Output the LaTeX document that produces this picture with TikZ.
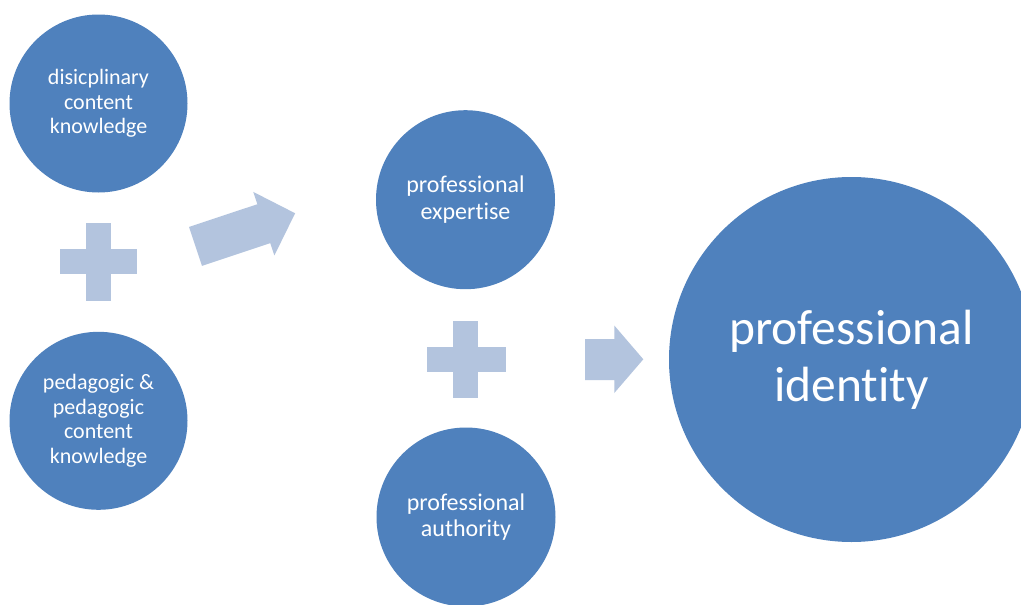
\documentclass[tikz,border=0pt]{standalone}
\usepackage{fontspec}
\setmainfont[Ligatures=NoCommon]{Carlito}
\definecolor{circblue}{RGB}{79,129,189}
\definecolor{lightblue}{RGB}{179,196,222}
\tikzset{
  bubble/.style={circle, fill=circblue, draw=none, inner sep=0pt, text=white, align=center},
  small/.style={bubble, minimum size=178pt, font=\fontsize{22}{24.5}\selectfont},
  medium/.style={bubble, minimum size=179pt, font=\fontsize{24}{26.7}\selectfont},
  big/.style={bubble, minimum size=365pt, font=\fontsize{49.5}{57}\selectfont},
  blockshape/.style={fill=lightblue, draw=none}
}
\begin{document}
\begin{tikzpicture}[x=1pt, y=-1pt]
\useasboundingbox (0,0) rectangle (1021,605);
\clip (0,0) rectangle (1021,605);
\fill[white] (0,0) rectangle (1021,605);

\node[small] (dck) at (98.5,103.5) {disicplinary\\content\\knowledge};
\node[small] (pck) at (98.5,420.8) {pedagogic \&\\pedagogic\\content\\knowledge};
\node[medium] (pe) at (465.5,199.7) {professional\\expertise};
\node[medium] (pa) at (466,517) {professional\\authority};
\node[big] (pi) at (851.5,359.5) {professional\\identity};

% plus signs
\fill[blockshape] (86,222.7) rectangle (110.7,300.7);
\fill[blockshape] (60,249.3) rectangle (136.7,274);
\fill[blockshape] (453.3,320.7) rectangle (478.3,398.3);
\fill[blockshape] (426.7,346.7) rectangle (505.7,371.7);

% diagonal arrow
\begin{scope}[shift={(195.5,246.4)}, rotate=18.4]
\fill[blockshape] (0,-20.5) -- (72,-20.5) -- (72,-33.5) -- (105,0) -- (72,33.5) -- (72,20.5) -- (0,20.5) -- cycle;
\end{scope}

% right arrow
\fill[blockshape] (585,339) -- (614.3,339) -- (614.3,325.5) -- (643.3,359.3) -- (614.3,393) -- (614.3,380) -- (585,380) -- cycle;
\end{tikzpicture}
\end{document}
